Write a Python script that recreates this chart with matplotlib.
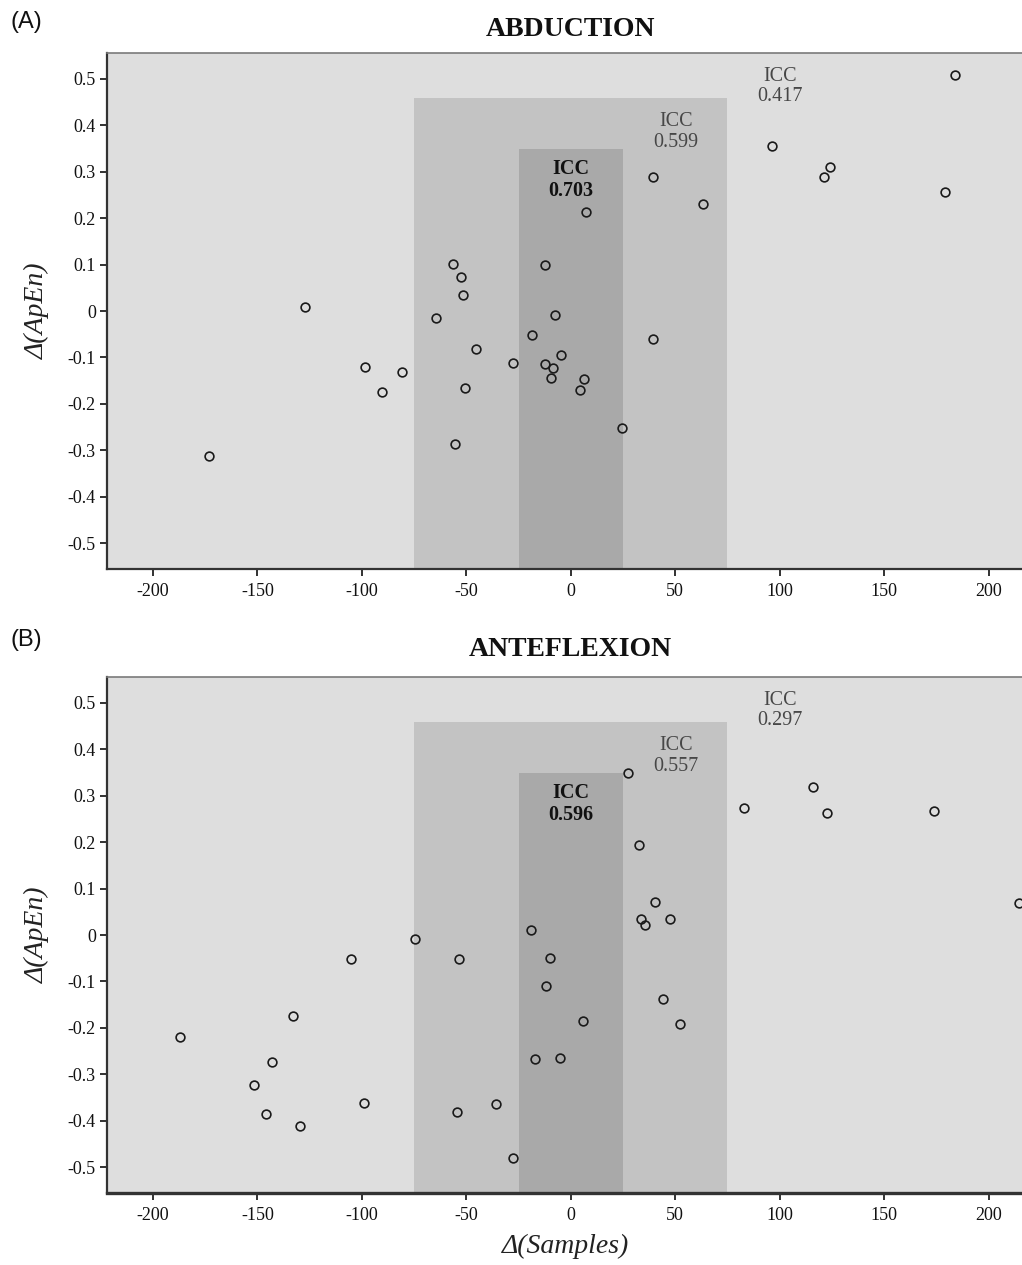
import matplotlib
matplotlib.use("Agg")
import matplotlib.pyplot as plt
from matplotlib.patches import Rectangle

# ---- data ----
abd_x = [-173, -127, -98.6, -90.4, -81, -64.6, -56.5, -52.6, -51.7, -50.7, -55.5, -45.5,
         -27.8, -18.7, -12.4, -12.4, -9.6, -8.6, -7.7, -4.8, 4.3, 6.2, 7.2, 24.4,
         39.2, 39.2, 63.2, 96.2, 121, 124, 179, 184]
abd_y = [-0.312, 0.009, -0.120, -0.175, -0.131, -0.015, 0.101, 0.073, 0.034, -0.166, -0.287, -0.082,
         -0.112, -0.052, 0.099, -0.114, -0.144, -0.123, -0.009, -0.095, -0.170, -0.147, 0.213, -0.252,
         0.289, -0.060, 0.231, 0.356, 0.289, 0.310, 0.256, 0.509]

ant_x = [-187, -151.7, -146, -143, -133, -129.7, -105, -99, -74.6, -53.6, -54.5, -35.9,
         -27.8, -19.1, -17.2, -10, -12, -5.3, 5.7, 27.3, 32.5, 33.5, 35.4, 40.2,
         47.4, 44, 52.2, 82.8, 115.8, 122.5, 174, 214.8]
ant_y = [-0.219, -0.324, -0.386, -0.273, -0.174, -0.412, -0.052, -0.363, -0.009, -0.052, -0.382, -0.365,
         -0.481, 0.011, -0.268, -0.049, -0.109, -0.266, -0.185, 0.350, 0.195, 0.034, 0.021, 0.071,
         0.034, -0.137, -0.191, 0.273, 0.320, 0.262, 0.268, 0.069]

titles = ["ABDUCTION", "ANTEFLEXION"]
panel_labels = ["(A)", "(B)"]
icc_abd = ["0.417", "0.599", "0.703"]
icc_ant = ["0.297", "0.557", "0.596"]
# band limits (x half-widths) and heights
band_half = [75, 25]
band_top = [0.46, 0.35]
icc_pos = [(100, 0.484), (50.5, 0.386), (0, 0.282)]

xticks = [-200, -150, -100, -50, 0, 50, 100, 150, 200]
yticks = [-0.5, -0.4, -0.3, -0.2, -0.1, 0, 0.1, 0.2, 0.3, 0.4, 0.5]
ytick_labels = ["-0.5", "-0.4", "-0.3", "-0.2", "-0.1", "0", "0.1", "0.2", "0.3", "0.4", "0.5"]
xtick_labels = ["-200", "-150", "-100", "-50", "0", "50", "100", "150", "200"]

W, H = 1022, 1265
fig = plt.figure(figsize=(W / 100, H / 100), dpi=100)
serif = ["Liberation Serif", "DejaVu Serif"]

axes_px = [(53, 569), (677, 1193)]
title_y = [30, 650]
label_y = [22, 640]
datasets = [(abd_x, abd_y, icc_abd), (ant_x, ant_y, icc_ant)]

for i, ((top, bot), (xs, ys, iccs)) in enumerate(zip(axes_px, datasets)):
    left = 107
    ax = fig.add_axes([left / W, 1 - bot / H, (W - left) / W, (bot - top) / H])
    ax.set_xlim(-222, 216)
    ax.set_ylim(-0.556, 0.556)
    ax.set_facecolor("#dedede")
    # bands
    ax.add_patch(Rectangle((-band_half[0], -0.556), 2 * band_half[0], band_top[0] + 0.556,
                           facecolor="#c3c3c3", edgecolor="none", zorder=1))
    ax.add_patch(Rectangle((-band_half[1], -0.556), 2 * band_half[1], band_top[1] + 0.556,
                           facecolor="#a9a9a9", edgecolor="none", zorder=2))
    ax.plot(xs, ys, linestyle="none", marker="o", markersize=6.3, markerfacecolor="none",
            markeredgecolor="#1a1a1a", markeredgewidth=1.2, zorder=5, clip_on=False)
    # ICC labels
    for j, (pos, val) in enumerate(zip(icc_pos, iccs)):
        bold = (j == 2)
        ax.text(pos[0], pos[1], "ICC\n" + val, ha="center", va="center",
                fontsize=14.5, family=serif, linespacing=1.1,
                fontweight="bold" if bold else "normal",
                color="#111111" if bold else "#474747", zorder=6)
    ax.set_xticks(xticks)
    ax.set_xticklabels(xtick_labels)
    ax.set_yticks(yticks)
    ax.set_yticklabels(ytick_labels)
    for lab in ax.get_xticklabels() + ax.get_yticklabels():
        lab.set_family(serif)
        lab.set_fontsize(13)
        lab.set_color("#111111")
    ax.tick_params(direction="out", length=5, width=1.3, color="#222222")
    ax.tick_params(axis="y", pad=3)
    ax.tick_params(axis="x", pad=5)
    ax.spines["right"].set_visible(False)
    ax.spines["top"].set_color("#7a7a7a")
    ax.spines["top"].set_linewidth(1.2)
    ax.spines["left"].set_color("#333333")
    ax.spines["left"].set_linewidth(1.6)
    ax.spines["bottom"].set_color("#333333")
    ax.spines["bottom"].set_linewidth(1.6 if i == 0 else 2.4)
    ax.set_ylabel("Δ(ApEn)", family=serif, style="italic", fontsize=20, color="#222222")
    ax.yaxis.set_label_coords((50 - left) / (W - left), 0.5)
    if i == 1:
        ax.set_xlabel("Δ(Samples)", family=serif, style="italic", fontsize=20, color="#222222")
        ax.xaxis.set_label_coords((566 - left) / (W - left), (bot - 1234) / (bot - top))
    fig.text(570 / W, 1 - title_y[i] / H, titles[i], ha="center", va="center",
             family=serif, fontweight="bold", fontsize=20, color="#111111")
    fig.text(10 / W, 1 - label_y[i] / H, panel_labels[i], ha="left", va="center",
             family=["Liberation Sans", "DejaVu Sans"], fontsize=17, color="#111111")

fig.savefig("out.png", dpi=100)
